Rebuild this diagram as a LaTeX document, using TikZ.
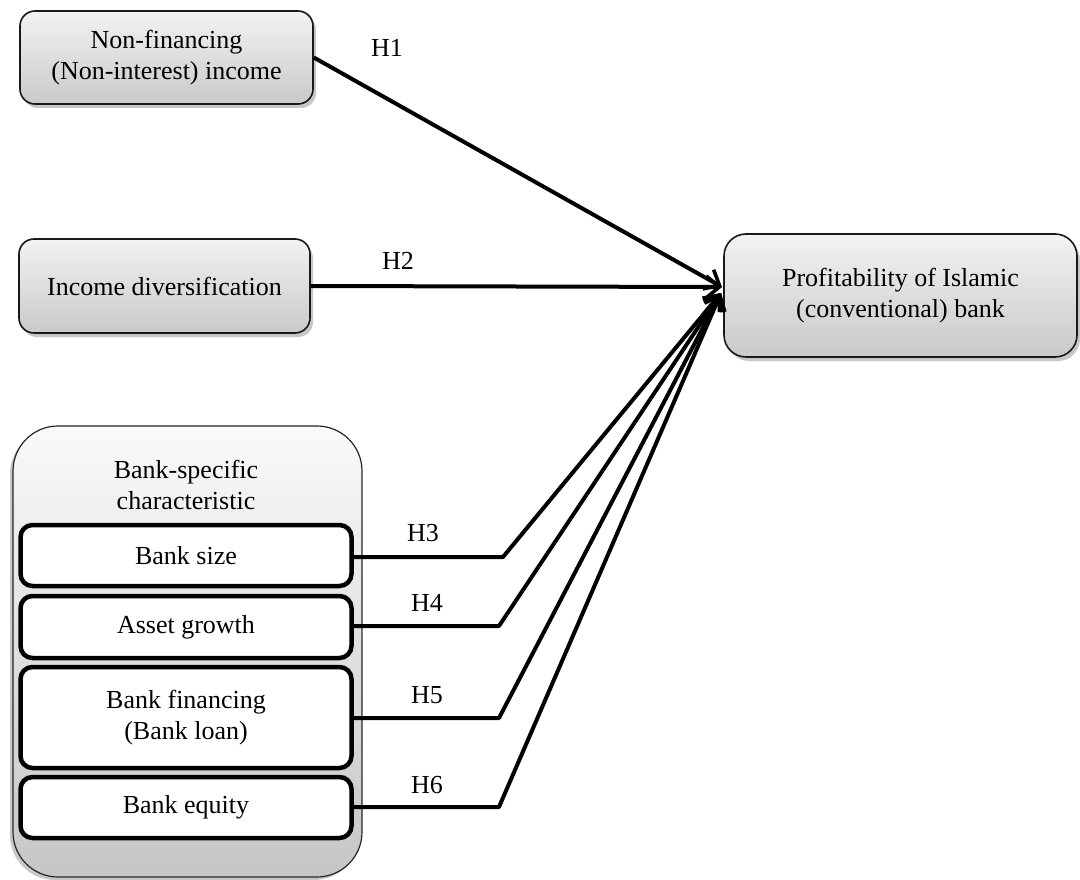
\documentclass[tikz,border=0pt]{standalone}
\usepackage{fontspec}
\setmainfont{Liberation Serif}
\usetikzlibrary{arrows.meta,shadows}
\begin{document}
\begin{tikzpicture}[x=1pt,y=-1pt,
  font=\fontsize{26}{31}\selectfont,
  graybox/.style={draw=black!90, line width=1.6pt, top color=gray!10, bottom color=gray!42,
    align=center, inner sep=0pt,
    drop shadow={shadow xshift=3pt, shadow yshift=-4pt, opacity=0.22, fill=black}},
  innerbox/.style={draw=black, line width=4.5pt, fill=white, rounded corners=12pt,
    minimum width=331pt, inner sep=0pt, align=center},
  conn/.style={line width=4pt, line join=round, -{Straight Barb[length=13pt,width=22pt,line width=3.6pt]}},
  lab/.style={inner sep=0pt}
]
\useasboundingbox (0,0) rectangle (1080,880);

\node[graybox, rounded corners=15pt, minimum width=293pt, minimum height=93pt] (nfi) at (166.5,57.5)
  {Non-financing\\(Non-interest) income};
\node[graybox, rounded corners=15pt, minimum width=291pt, minimum height=94pt] (idv) at (164.5,286)
  {Income diversification};
\node[graybox, rounded corners=22pt, minimum width=353pt, minimum height=123pt] (prof) at (900.5,295.5)
  {Profitability of Islamic\\(conventional) bank};

\node[draw=black!85, line width=1.2pt, rounded corners=45pt, top color=gray!4, bottom color=gray!45,
  minimum width=349pt, minimum height=451pt, inner sep=0pt,
  drop shadow={shadow xshift=-3pt, shadow yshift=-3pt, opacity=0.22, fill=black}] (bsc) at (187.5,651.5) {};
\node[align=center, inner sep=0pt] (bsct) at (186,485) {Bank-specific\\characteristic};

\node[innerbox, minimum height=61pt] (size) at (186,555.5) {Bank size};
\node[innerbox, minimum height=62pt] (ag) at (186,627) {Asset growth};
\node[innerbox, minimum height=101pt] (bf) at (186,717.5) {Bank financing\\(Bank loan)};
\node[innerbox, minimum height=61pt] (be) at (186,807.5) {Bank equity};

\coordinate (tipa) at (722,287);
\coordinate (tipb) at (721,293);
\coordinate (k3) at (503,557);
\coordinate (k4) at (499,626);
\coordinate (k5) at (499,718);
\coordinate (k6) at (499,807);

\draw[conn] (nfi.east) -- (tipa);
\draw[conn] (idv.east) -- (tipa);
\draw[conn] (size.east |- k3) -- (k3) -- (tipb);
\draw[conn] (ag.east |- k4) -- (k4) -- (tipb);
\draw[conn] (bf.east |- k5) -- (k5) -- (tipb);
\draw[conn] (be.east |- k6) -- (k6) -- (tipb);

\node[lab] (h1) at (387,48) {H1};
\node[lab] (h2) at (398,261) {H2};
\node[lab] (h3) at (423,533) {H3};
\node[lab] (h4) at (427,603) {H4};
\node[lab] (h5) at (427,695) {H5};
\node[lab] (h6) at (427,785) {H6};
\end{tikzpicture}
\end{document}
